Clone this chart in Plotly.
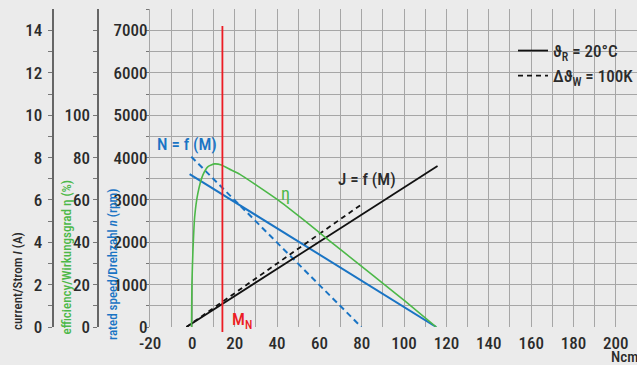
import plotly.graph_objects as go

# Motor characteristic curves vs. torque M (Ncm)
torque_speed_cold = [-1.3, 115.2]
speed_cold = [3610, 0]
torque_speed_hot = [-0.5, 79.8]
speed_hot = [4020, 0]

torque_current_cold = [-2.8, 115.8]
current_cold = [0, 7.60]
torque_current_hot = [-2.8, 79.9]
current_hot = [0, 5.79]

torque_eff = [-0.4, -0.2, 0.3, 1.1, 2.6, 5.0, 7.4, 10.5, 13.7, 18.4, 22.3, 30.2,
              40.4, 52.0, 64.8, 79.8, 90.0, 100.2, 115.2]
efficiency = [0, 20.6, 36.4, 52.1, 63.1, 71.8, 75.7, 77.0, 76.5, 74.1, 72.2, 67.0,
              60.0, 51.0, 40.7, 28.7, 20.6, 12.4, 0]

rated_torque = 14.2

x_ticks = list(range(-20, 211, 10))
x_labels = [str(v) if v % 20 == 0 else "" for v in x_ticks]
speed_ticks = list(range(0, 7501, 500))
speed_labels = [str(v) if v % 1000 == 0 and v <= 7000 else "" for v in speed_ticks]
current_ticks = list(range(0, 15, 1))
current_labels = [str(v) if v % 2 == 0 else "" for v in current_ticks]
eff_ticks = list(range(0, 150, 10))
eff_labels = [str(v) if v % 20 == 0 and v <= 100 else "" for v in eff_ticks]

FONT = ("Noto Sans ExtraCondensed, Noto Sans Condensed, Roboto Condensed, "
        "DejaVu Sans Condensed, Liberation Sans Narrow, Liberation Sans, sans-serif")
TXT = "#2b2b2b"
BLUE = "#1a74c4"
GREEN = "#4cb848"
RED = "#ec1c24"
BLACK = "#111111"
GRID = "#a6a6a6"
BG = "#ebebeb"

W, H = 637, 365
top_px, bottom_px, left_px = 9.3, 327.0, 150.0
ydom = [(H - bottom_px) / H, (H - top_px) / H]

fig = go.Figure()

fig.add_trace(go.Scatter(x=torque_speed_cold, y=speed_cold, mode="lines",
                         line=dict(color=BLUE, width=2), yaxis="y", showlegend=False))
fig.add_trace(go.Scatter(x=torque_speed_hot, y=speed_hot, mode="lines",
                         line=dict(color=BLUE, width=2, dash="6px,4px"), yaxis="y",
                         showlegend=False))
fig.add_trace(go.Scatter(x=torque_eff, y=efficiency, mode="lines",
                         line=dict(color=GREEN, width=1.6, shape="spline", smoothing=0.5),
                         yaxis="y3", showlegend=False))
fig.add_trace(go.Scatter(x=torque_current_cold, y=current_cold, mode="lines",
                         line=dict(color=BLACK, width=1.8), yaxis="y2",
                         name="ϑ<sub>R</sub> = 20°C", legendgroup="a"))
fig.add_trace(go.Scatter(x=torque_current_hot, y=current_hot, mode="lines",
                         line=dict(color=BLACK, width=1.8, dash="5px,4px"), yaxis="y2",
                         name="Δϑ<sub>W</sub> = 100K", legendgroup="b"))

# rated torque marker
fig.add_shape(type="line", xref="x", yref="paper", x0=rated_torque, x1=rated_torque,
              y0=(H - 332) / H, y1=(H - 26) / H, line=dict(color=RED, width=1.8))

tickfont = dict(family=FONT, size=17, color=TXT, weight=500)

fig.update_layout(
    width=W, height=H,
    margin=dict(l=0, r=0, t=0, b=0, autoexpand=False),
    paper_bgcolor=BG, plot_bgcolor=BG,
    font=dict(family=FONT, color=TXT),
    xaxis=dict(domain=[left_px / W, 1], range=[-20, 210], tickmode="array",
               tickvals=x_ticks, ticktext=x_labels, showgrid=True, gridcolor=GRID,
               gridwidth=1.3, zeroline=False, showline=False, ticks="",
               tickfont=tickfont, ticklabelstandoff=4),
    yaxis=dict(domain=ydom, range=[0, 7500], tickmode="array", tickvals=speed_ticks,
               ticktext=speed_labels, showgrid=True, gridcolor=GRID, gridwidth=1.3,
               zeroline=False, showline=True, linecolor=GRID, linewidth=1.3,
               ticks="outside", ticklen=3, tickcolor="#777", tickfont=tickfont,
               ticklabelstandoff=-5),
    yaxis2=dict(domain=ydom, range=[0, 15], overlaying="y", anchor="free",
                position=52.7 / W, side="left", tickmode="array", tickvals=current_ticks,
                ticktext=current_labels, showgrid=False, zeroline=False, showline=True,
                linecolor="#666", linewidth=2, ticks="outside", ticklen=4,
                tickcolor="#777", tickfont=tickfont, ticklabelstandoff=2),
    yaxis3=dict(domain=ydom, range=[0, 150], overlaying="y", anchor="free",
                position=98.3 / W, side="left", tickmode="array", tickvals=eff_ticks,
                ticktext=eff_labels, showgrid=False, zeroline=False, showline=True,
                linecolor="#666", linewidth=2, ticks="outside", ticklen=4,
                tickcolor="#777", tickfont=tickfont, ticklabelstandoff=0),
    legend=dict(x=513 / W, y=(H - 33) / H, xanchor="left", yanchor="top",
                bgcolor="rgba(0,0,0,0)",
                font=dict(family=FONT, size=17, color=TXT, weight=500),
                traceorder="grouped", tracegroupgap=0),
)

ann = []
title_font = dict(family=FONT, size=13, weight=500)
ann.append(dict(text="current/Strom <i>I</i> (A)", xref="paper", yref="paper",
                x=17.5 / W, y=(H - 281.5) / H, xanchor="center", yanchor="middle",
                textangle=-90, showarrow=False, font=dict(title_font, color=TXT)))
ann.append(dict(text="efficiency/Wirkungsgrad η (%)", xref="paper", yref="paper",
                x=66 / W, y=(H - 257.5) / H, xanchor="center", yanchor="middle",
                textangle=-90, showarrow=False, font=dict(title_font, color=GREEN)))
ann.append(dict(text="rated speed/Drehzahl <i>n</i> (rpm)", xref="paper", yref="paper",
                x=112 / W, y=(H - 265) / H, xanchor="center", yanchor="middle",
                textangle=-90, showarrow=False, font=dict(title_font, color=BLUE)))
ann.append(dict(text="N = f (M)", xref="x", yref="y", x=-2.5, y=4320, showarrow=False,
                font=dict(family=FONT, size=17, color=BLUE, weight=500)))
ann.append(dict(text="J = f (M)", xref="x", yref="y", x=82.5, y=3494, showarrow=False,
                font=dict(family=FONT, size=17, color=TXT, weight=500)))
ann.append(dict(text="η", xref="x", yref="y", x=44, y=3163, showarrow=False,
                font=dict(family=FONT, size=18, color=GREEN)))
ann.append(dict(text="M<sub>N</sub>", xref="x", yref="y", x=rated_torque + 3.6, y=150,
                xanchor="left", showarrow=False,
                font=dict(family=FONT, size=17, color=RED, weight=500)))
ann.append(dict(text="Ncm", xref="paper", yref="paper", x=1, y=(H - 357) / H,
                xanchor="right", yanchor="middle", xshift=3, showarrow=False,
                font=dict(family=FONT, size=15, color=TXT, weight=500)))
fig.update_layout(annotations=ann)

fig.write_html("out.html")
